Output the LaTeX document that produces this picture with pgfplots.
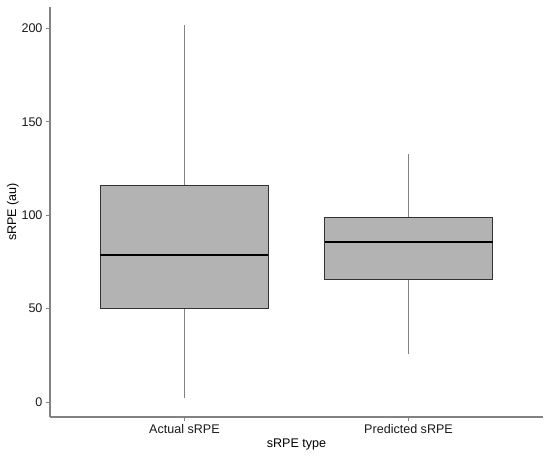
\documentclass[border=0pt]{standalone}
\usepackage{fontspec}
\setmainfont{Liberation Sans}
\usepackage{pgfplots}
\pgfplotsset{compat=1.18}
\usetikzlibrary{calc}
\definecolor{boxfill}{RGB}{179,179,179}
\definecolor{boxedge}{RGB}{51,51,51}
\definecolor{axisgray}{RGB}{130,130,130}
\definecolor{ticktext}{RGB}{25,25,25}
% box half width 0.375 around positions 1 and 2
\begin{document}
\begin{tikzpicture}
\begin{axis}[
    scale only axis,
    width=493bp, height=410bp,
    xmin=0.4, xmax=2.6,
    ymin=-8, ymax=211.5,
    axis x line=bottom, axis y line=left,
    axis line style={-, axisgray, line width=1.1pt},
    tick align=outside,
    major tick length=4bp,
    tick style={axisgray, line width=0.9pt},
    xtick={1,2},
    xticklabels={Actual sRPE, Predicted sRPE},
    ytick={0,50,100,150,200},
    ticklabel style={font=\fontsize{12.6}{13}\selectfont, text=ticktext},
    /pgf/number format/assume math mode=true,
    xlabel={sRPE type},
    ylabel={sRPE (au)},
    label style={font=\fontsize{12.6}{13}\selectfont},
    xlabel style={yshift=2bp},
    ylabel style={yshift=-4bp},
    clip=false,
]
% Actual sRPE
\addplot[axisgray, line width=0.9pt] coordinates {(1,2) (1,50)};
\addplot[axisgray, line width=0.9pt] coordinates {(1,116.1) (1,202)};
\addplot[draw=boxedge, fill=boxfill, line width=0.9pt]
    coordinates {(0.625,50) (1.375,50) (1.375,116.1) (0.625,116.1)} -- cycle;
\addplot[black, line width=1.8pt] coordinates {(0.625,78.6) (1.375,78.6)};
% Predicted sRPE
\addplot[axisgray, line width=0.9pt] coordinates {(2,25.5) (2,65.8)};
\addplot[axisgray, line width=0.9pt] coordinates {(2,98.6) (2,132.7)};
\addplot[draw=boxedge, fill=boxfill, line width=0.9pt]
    coordinates {(1.625,65.8) (2.375,65.8) (2.375,98.6) (1.625,98.6)} -- cycle;
\addplot[black, line width=1.8pt] coordinates {(1.625,85.6) (2.375,85.6)};
\end{axis}
\useasboundingbox ($(current axis.south west)+(-50bp,-41.3bp)$) rectangle ($(current axis.north east)+(7bp,7bp)$);
\end{tikzpicture}
\end{document}
